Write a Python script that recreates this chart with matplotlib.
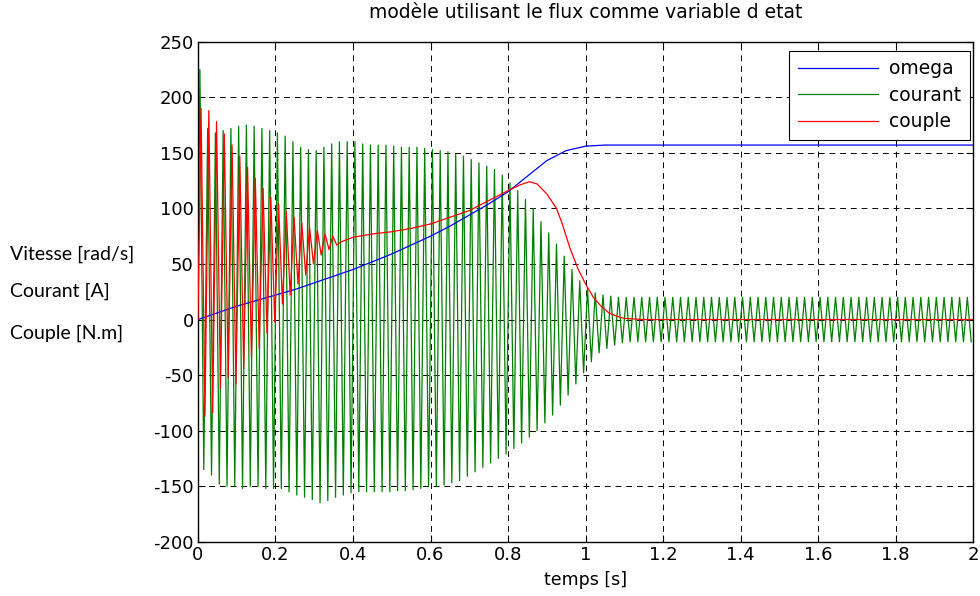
import numpy as np
import matplotlib.pyplot as plt

# ------------------------------
# Data
# ------------------------------

# speed omega [rad/s]
t_omega = [0, 0.05, 0.1, 0.15, 0.2, 0.25, 0.3, 0.35, 0.4, 0.45, 0.5, 0.55, 0.6,
           0.65, 0.7, 0.75, 0.8, 0.85, 0.9, 0.95, 1.0, 1.05, 1.1, 2.0]
omega = [0, 6, 12, 17, 22, 27, 33, 39, 45, 52, 59, 67, 75,
         84, 94, 104, 115, 129, 143, 152, 156, 157, 157, 157]

# current: one positive and one negative peak per 50 Hz period (100 periods)
period = 0.02
cur_hi = [225, 172, 168, 170, 172, 174, 175, 174, 172, 170,
          168, 165, 160, 155, 153, 152, 155, 158, 160, 160,
          160, 158, 157, 157, 157, 156, 155, 155, 155, 154,
          153, 152, 151, 149, 147, 144, 141, 138, 135, 130,
          123, 116, 108, 100, 88, 78, 68, 57, 45, 35,
          28, 24, 22, 21] + [20] * 46
cur_lo = [-135, -140, -148, -150, -150, -152, -150, -150, -152, -152,
          -152, -155, -158, -160, -162, -165, -163, -160, -158, -156,
          -155, -155, -155, -155, -155, -154, -154, -153, -152, -150,
          -150, -149, -147, -145, -141, -137, -133, -129, -125, -121,
          -116, -111, -106, -100, -93, -86, -77, -68, -58, -48,
          -38, -30, -26, -23, -21] + [-20] * 45

# torque: oscillating start (peaks per period), then smooth part
cpl_hi = [190, 188, 178, 167, 157, 147, 137, 127, 118, 110,
          104, 97, 92, 87, 83, 80, 77, 75]
cpl_lo = [-87, -84, -62, -52, -58, -44, -34, -26, -12, -2,
          14, 22, 32, 40, 50, 58, 63, 67]
t_cpl = [0.37, 0.4, 0.45, 0.5, 0.55, 0.6, 0.65, 0.7, 0.75, 0.8, 0.83, 0.855,
         0.875, 0.9, 0.925, 0.94, 0.96, 0.98, 1.0, 1.02, 1.04, 1.06, 1.08,
         1.1, 1.15, 2.0]
cpl = [70, 74, 77, 79, 82, 86, 92, 98, 107, 116, 121, 124,
       122, 113, 100, 86, 64, 46, 32, 20, 12, 6, 3,
       1, 0, 0]

# build polylines from the peaks
k = np.arange(len(cur_hi))
t_cur = np.concatenate([[0], np.column_stack([k * period + 0.005, k * period + 0.015]).ravel()])
courant = np.concatenate([[0], np.column_stack([cur_hi, cur_lo]).ravel()])

kc = np.arange(len(cpl_hi))
t_c = np.concatenate([[0], np.column_stack([kc * period + 0.008, kc * period + 0.018]).ravel(), t_cpl])
couple = np.concatenate([[0], np.column_stack([cpl_hi, cpl_lo]).ravel(), cpl])

# ------------------------------
# Plot
# ------------------------------
plt.rcParams['font.family'] = ['DejaVu Sans']
plt.rcParams['axes.unicode_minus'] = False

fig = plt.figure(figsize=(9.8, 5.96), dpi=100)
ax = fig.add_axes([0.202, 0.091, 0.791, 0.839])

ax.plot(t_cur, courant, color=(0, 0.5, 0), lw=0.9, label='courant', zorder=2)
ax.plot(t_omega, omega, color='blue', lw=0.9, label='omega', zorder=3)
ax.plot(t_c, couple, color='red', lw=0.9, label='couple', zorder=4)

ax.set_xlim(0, 2)
ax.set_ylim(-200, 250)
ax.set_xticks(np.arange(0, 2.01, 0.2))
ax.set_xticklabels(['0', '0.2', '0.4', '0.6', '0.8', '1', '1.2', '1.4', '1.6', '1.8', '2'])
ax.set_yticks(np.arange(-200, 251, 50))
ax.tick_params(direction='in', length=5, width=0.8, top=True, right=True,
               labelsize=13, colors='black', pad=3)
for s in ax.spines.values():
    s.set_linewidth(1.0)
ax.grid(True, color='black', linestyle=(0, (6, 5)), linewidth=0.7)

ax.set_title('modèle utilisant le flux comme variable d etat', fontsize=13.5, pad=17)
ax.set_xlabel('temps [s]', fontsize=12.5, labelpad=5)

h, l = ax.get_legend_handles_labels()
order = [1, 0, 2]
leg = ax.legend([h[i] for i in order], [l[i] for i in order], loc='upper right',
                bbox_to_anchor=(0.996, 0.982), borderaxespad=0, fancybox=False,
                framealpha=1, edgecolor='black', fontsize=13.5, handlelength=4.3,
                handletextpad=0.6, labelspacing=0.4, borderpad=0.45)
leg.get_frame().set_linewidth(0.8)

fig.text(0.010, 0.574, 'Vitesse [rad/s]', family='Lato', fontsize=14, va='center')
fig.text(0.010, 0.511, 'Courant [A]', family='Lato', fontsize=14, va='center')
fig.text(0.010, 0.441, 'Couple [N.m]', family='Lato', fontsize=14, va='center')

fig.savefig('out.png', dpi=100)
